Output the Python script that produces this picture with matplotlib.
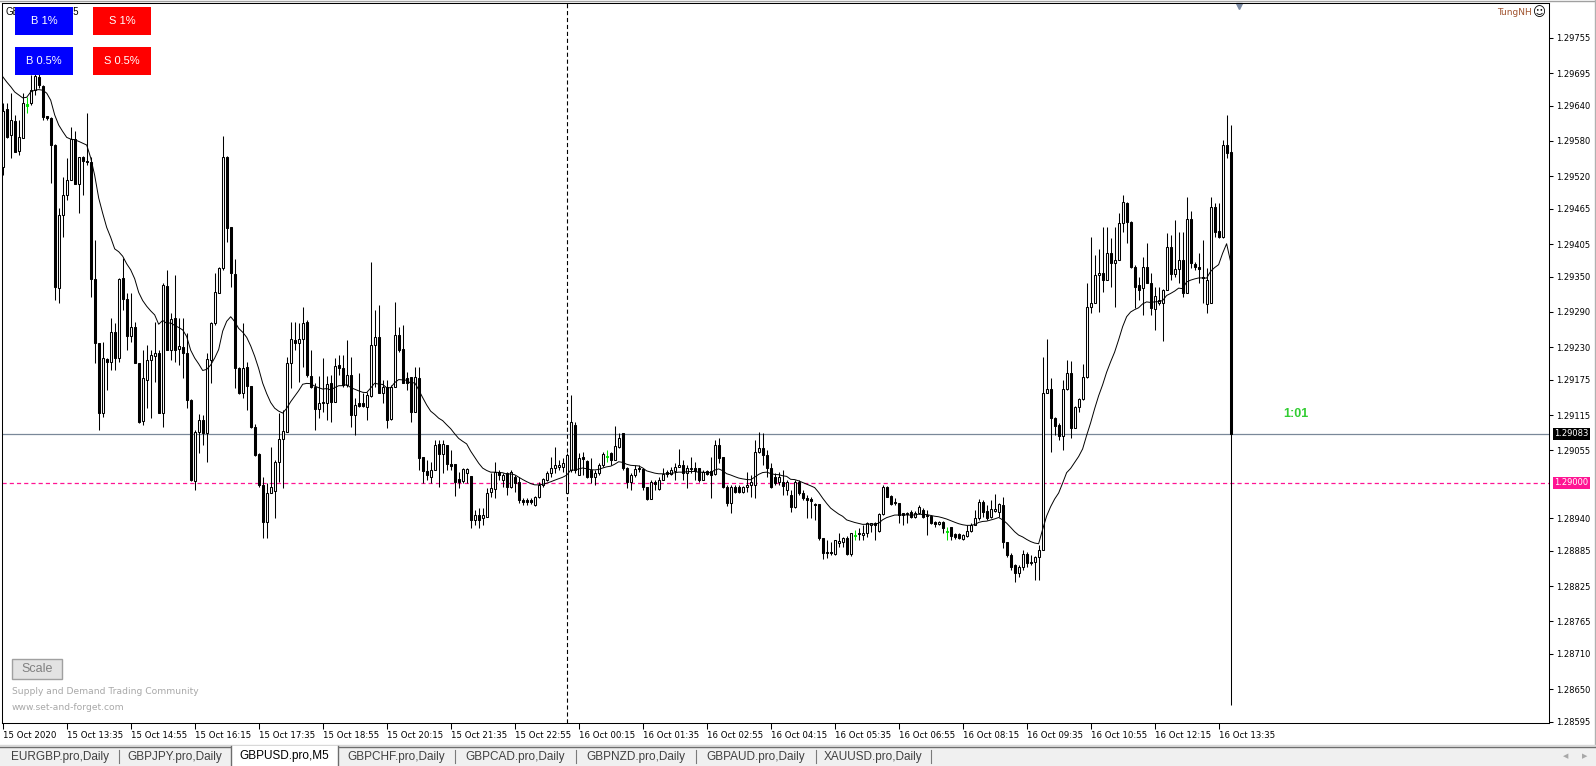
import numpy as np
import matplotlib
matplotlib.use("Agg")
import matplotlib.pyplot as plt
from matplotlib.patches import Rectangle
from matplotlib.lines import Line2D
from matplotlib.transforms import blended_transform_factory

plt.rcParams["font.family"] = ["DejaVu Sans"]
plt.rcParams["lines.scale_dashes"] = False

# GBPUSD M5 candles, 15 Oct 12:15 -> 16 Oct 13:50
open_ = [
    1.29536, 1.29634, 1.29590, 1.29613, 1.29563, 1.29585, 1.29640, 1.29644, 1.29666, 1.29688,
    1.29673, 1.29622, 1.29619, 1.29573, 1.29331, 1.29454, 1.29488, 1.29514, 1.29583, 1.29507,
    1.29553, 1.29546, 1.29544, 1.29346, 1.29237, 1.29119, 1.29210, 1.29205, 1.29256, 1.29212,
    1.29347, 1.29312, 1.29249, 1.29264, 1.29203, 1.29105, 1.29175, 1.29208, 1.29215, 1.29220,
    1.29119, 1.29334, 1.29225, 1.29280, 1.29227, 1.29230, 1.29220, 1.29141, 1.29003, 1.29086,
    1.29107, 1.29085, 1.29208, 1.29271, 1.29322, 1.29364, 1.29553, 1.29434, 1.29354, 1.29195,
    1.29152, 1.29197, 1.29164, 1.29095, 1.29049, 1.28996, 1.28934, 1.28983, 1.28986, 1.29035,
    1.29074, 1.29086, 1.29203, 1.29242, 1.29237, 1.29244, 1.29273, 1.29181, 1.29163, 1.29125,
    1.29136, 1.29136, 1.29169, 1.29137, 1.29200, 1.29195, 1.29166, 1.29183, 1.29115, 1.29135,
    1.29135, 1.29129, 1.29147, 1.29234, 1.29247, 1.29152, 1.29163, 1.29108, 1.29163, 1.29251,
    1.29227, 1.29178, 1.29180, 1.29120, 1.29178, 1.29044, 1.29020, 1.29010, 1.29022, 1.29066,
    1.29049, 1.29064, 1.29032, 1.29032, 1.29007, 1.29003, 1.29017, 1.29012, 1.28937, 1.28946,
    1.28941, 1.28942, 1.28985, 1.28990, 1.29018, 1.29005, 1.29017, 1.28993, 1.29010, 1.29001,
    1.28971, 1.28971, 1.28971, 1.28963, 1.28976, 1.28996, 1.29005, 1.29017, 1.29025, 1.29027,
    1.29027, 1.28983, 1.29022, 1.29098, 1.29013, 1.29044, 1.29037, 1.29022, 1.29010, 1.29017,
    1.29030, 1.29044, 1.29051, 1.29039, 1.29061, 1.29085, 1.29025, 1.29001, 1.29013, 1.29025,
    1.29024, 1.28993, 1.28973, 1.29001, 1.28990, 1.29005, 1.29018, 1.29015, 1.29020, 1.29027,
    1.29030, 1.29017, 1.29024, 1.29025, 1.29025, 1.29005, 1.29020, 1.29020, 1.29015, 1.29064,
    1.29044, 1.28993, 1.28966, 1.28993, 1.28993, 1.28985, 1.28993, 1.28996, 1.28996, 1.29052,
    1.29059, 1.29047, 1.29025, 1.29010, 1.29001, 1.29001, 1.28988, 1.28980, 1.28959, 1.29001,
    1.28983, 1.28974, 1.28973, 1.28964, 1.28964, 1.28907, 1.28883, 1.28883, 1.28879, 1.28898,
    1.28900, 1.28907, 1.28879, 1.28910, 1.28913, 1.28912, 1.28915, 1.28929, 1.28932, 1.28918,
    1.28947, 1.28993, 1.28978, 1.28967, 1.28966, 1.28949, 1.28949, 1.28951, 1.28942, 1.28949,
    1.28954, 1.28946, 1.28944, 1.28934, 1.28930, 1.28934, 1.28917, 1.28925, 1.28913, 1.28913,
    1.28905, 1.28910, 1.28918, 1.28929, 1.28940, 1.28968, 1.28952, 1.28942, 1.28952, 1.28951,
    1.28962, 1.28900, 1.28878, 1.28861, 1.28847, 1.28857, 1.28879, 1.28864, 1.28866, 1.28874,
    1.28886, 1.29152, 1.29159, 1.29110, 1.29098, 1.29080, 1.29159, 1.29186, 1.29093, 1.29129,
    1.29142, 1.29180, 1.29298, 1.29305, 1.29353, 1.29356, 1.29344, 1.29390, 1.29373, 1.29378,
    1.29441, 1.29475, 1.29443, 1.29366, 1.29336, 1.29331, 1.29366, 1.29339, 1.29295, 1.29305,
    1.29305, 1.29327, 1.29400, 1.29354, 1.29363, 1.29378, 1.29322, 1.29448, 1.29371, 1.29366,
    1.29349, 1.29303, 1.29305, 1.29468, 1.29427, 1.29417, 1.29573, 1.29561,
]

high = [
    1.29644, 1.29644, 1.29661, 1.29624, 1.29615, 1.29661, 1.29654, 1.29692, 1.29700, 1.29697,
    1.29675, 1.29622, 1.29620, 1.29574, 1.29466, 1.29519, 1.29551, 1.29604, 1.29597, 1.29553,
    1.29554, 1.29627, 1.29553, 1.29412, 1.29238, 1.29239, 1.29212, 1.29280, 1.29271, 1.29347,
    1.29381, 1.29322, 1.29322, 1.29273, 1.29204, 1.29225, 1.29234, 1.29225, 1.29273, 1.29225,
    1.29339, 1.29361, 1.29288, 1.29353, 1.29280, 1.29280, 1.29254, 1.29142, 1.29090, 1.29117,
    1.29115, 1.29220, 1.29273, 1.29356, 1.29366, 1.29588, 1.29554, 1.29434, 1.29380, 1.29196,
    1.29271, 1.29205, 1.29165, 1.29100, 1.29050, 1.29010, 1.29000, 1.29061, 1.29039, 1.29119,
    1.29124, 1.29213, 1.29273, 1.29273, 1.29271, 1.29298, 1.29276, 1.29225, 1.29169, 1.29181,
    1.29212, 1.29181, 1.29183, 1.29212, 1.29217, 1.29217, 1.29242, 1.29213, 1.29144, 1.29186,
    1.29152, 1.29154, 1.29375, 1.29293, 1.29302, 1.29174, 1.29174, 1.29166, 1.29307, 1.29264,
    1.29268, 1.29188, 1.29180, 1.29197, 1.29197, 1.29044, 1.29039, 1.29035, 1.29073, 1.29073,
    1.29073, 1.29064, 1.29056, 1.29032, 1.29018, 1.29025, 1.29025, 1.29012, 1.28954, 1.28957,
    1.28957, 1.28991, 1.29017, 1.29035, 1.29022, 1.29017, 1.29018, 1.29022, 1.29013, 1.29010,
    1.28974, 1.28974, 1.28974, 1.28978, 1.29001, 1.29008, 1.29020, 1.29044, 1.29061, 1.29039,
    1.29042, 1.29051, 1.29149, 1.29103, 1.29051, 1.29052, 1.29039, 1.29042, 1.29022, 1.29034,
    1.29052, 1.29056, 1.29052, 1.29096, 1.29085, 1.29085, 1.29027, 1.29017, 1.29030, 1.29030,
    1.29025, 1.28993, 1.29005, 1.29005, 1.29010, 1.29025, 1.29022, 1.29027, 1.29034, 1.29058,
    1.29039, 1.29030, 1.29044, 1.29035, 1.29025, 1.29022, 1.29022, 1.29044, 1.29073, 1.29076,
    1.29044, 1.28996, 1.28996, 1.28996, 1.28996, 1.28995, 1.29018, 1.29013, 1.29073, 1.29086,
    1.29085, 1.29056, 1.29034, 1.29017, 1.29018, 1.29022, 1.29005, 1.28988, 1.29005, 1.29005,
    1.28988, 1.28980, 1.28976, 1.28966, 1.28964, 1.28907, 1.28903, 1.28900, 1.28903, 1.28915,
    1.28908, 1.28910, 1.28915, 1.28920, 1.28924, 1.28929, 1.28934, 1.28932, 1.28934, 1.28949,
    1.28996, 1.28994, 1.28980, 1.28974, 1.28966, 1.28949, 1.28951, 1.28954, 1.28952, 1.28962,
    1.28957, 1.28954, 1.28946, 1.28935, 1.28936, 1.28935, 1.28925, 1.28926, 1.28915, 1.28915,
    1.28913, 1.28929, 1.28932, 1.28954, 1.28973, 1.28971, 1.28962, 1.28971, 1.28981, 1.28966,
    1.28976, 1.28900, 1.28881, 1.28863, 1.28861, 1.28886, 1.28883, 1.28878, 1.28876, 1.28895,
    1.29214, 1.29244, 1.29178, 1.29112, 1.29102, 1.29174, 1.29208, 1.29207, 1.29131, 1.29144,
    1.29202, 1.29339, 1.29417, 1.29387, 1.29397, 1.29434, 1.29434, 1.29415, 1.29434, 1.29458,
    1.29488, 1.29476, 1.29444, 1.29370, 1.29349, 1.29383, 1.29407, 1.29356, 1.29332, 1.29332,
    1.29329, 1.29424, 1.29420, 1.29446, 1.29425, 1.29425, 1.29485, 1.29461, 1.29375, 1.29390,
    1.29412, 1.29364, 1.29485, 1.29475, 1.29475, 1.29582, 1.29624, 1.29607,
]

low = [
    1.29522, 1.29585, 1.29551, 1.29561, 1.29556, 1.29585, 1.29627, 1.29641, 1.29658, 1.29670,
    1.29615, 1.29615, 1.29509, 1.29310, 1.29305, 1.29417, 1.29480, 1.29514, 1.29507, 1.29458,
    1.29488, 1.29539, 1.29315, 1.29203, 1.29090, 1.29112, 1.29158, 1.29191, 1.29191, 1.29205,
    1.29293, 1.29225, 1.29239, 1.29203, 1.29102, 1.29098, 1.29127, 1.29110, 1.29171, 1.29119,
    1.29095, 1.29225, 1.29208, 1.29205, 1.29200, 1.29178, 1.29127, 1.29003, 1.28988, 1.29051,
    1.29064, 1.29035, 1.29169, 1.29268, 1.29322, 1.29361, 1.29409, 1.29332, 1.29161, 1.29150,
    1.29144, 1.29124, 1.29093, 1.29045, 1.28993, 1.28907, 1.28907, 1.28983, 1.28940, 1.29001,
    1.28991, 1.29086, 1.29161, 1.29225, 1.29171, 1.29197, 1.29180, 1.29161, 1.29090, 1.29110,
    1.29120, 1.29107, 1.29103, 1.29137, 1.29183, 1.29163, 1.29163, 1.29095, 1.29081, 1.29129,
    1.29129, 1.29107, 1.29146, 1.29163, 1.29152, 1.29136, 1.29093, 1.29107, 1.29163, 1.29222,
    1.29169, 1.29158, 1.29103, 1.29120, 1.29022, 1.29000, 1.29005, 1.29000, 1.29022, 1.28993,
    1.29017, 1.29022, 1.29022, 1.28978, 1.28991, 1.29000, 1.29000, 1.28923, 1.28929, 1.28923,
    1.28929, 1.28942, 1.28976, 1.28974, 1.29005, 1.28993, 1.28980, 1.28991, 1.28985, 1.28966,
    1.28963, 1.28963, 1.28965, 1.28961, 1.28975, 1.28993, 1.29003, 1.29010, 1.29017, 1.29022,
    1.29018, 1.28983, 1.29018, 1.29017, 1.29013, 1.29013, 1.29008, 1.29000, 1.28996, 1.29013,
    1.29027, 1.29035, 1.29030, 1.29039, 1.29059, 1.29022, 1.28991, 1.28988, 1.29010, 1.29018,
    1.28988, 1.28971, 1.28973, 1.28988, 1.28988, 1.29005, 1.29010, 1.29013, 1.29005, 1.29027,
    1.29005, 1.28991, 1.29017, 1.29005, 1.29001, 1.29005, 1.29013, 1.28974, 1.29013, 1.29034,
    1.28991, 1.28961, 1.28949, 1.28983, 1.28983, 1.28983, 1.28985, 1.28976, 1.28974, 1.29051,
    1.29030, 1.29010, 1.28991, 1.28996, 1.28996, 1.28980, 1.28980, 1.28951, 1.28957, 1.28980,
    1.28971, 1.28940, 1.28940, 1.28937, 1.28903, 1.28871, 1.28873, 1.28878, 1.28878, 1.28891,
    1.28891, 1.28878, 1.28876, 1.28903, 1.28903, 1.28903, 1.28908, 1.28917, 1.28903, 1.28917,
    1.28946, 1.28976, 1.28962, 1.28962, 1.28932, 1.28929, 1.28932, 1.28940, 1.28940, 1.28947,
    1.28940, 1.28912, 1.28930, 1.28925, 1.28928, 1.28915, 1.28903, 1.28903, 1.28905, 1.28905,
    1.28903, 1.28908, 1.28917, 1.28929, 1.28937, 1.28942, 1.28937, 1.28940, 1.28951, 1.28942,
    1.28890, 1.28874, 1.28852, 1.28832, 1.28840, 1.28852, 1.28857, 1.28861, 1.28835, 1.28835,
    1.28886, 1.29152, 1.29052, 1.29081, 1.29073, 1.29056, 1.29158, 1.29076, 1.29093, 1.29120,
    1.29141, 1.29178, 1.29288, 1.29305, 1.29290, 1.29324, 1.29344, 1.29332, 1.29298, 1.29378,
    1.29426, 1.29407, 1.29364, 1.29297, 1.29310, 1.29285, 1.29339, 1.29285, 1.29259, 1.29302,
    1.29241, 1.29327, 1.29344, 1.29349, 1.29339, 1.29315, 1.29322, 1.29364, 1.29361, 1.29339,
    1.29305, 1.29288, 1.29305, 1.29417, 1.29415, 1.29415, 1.29551, 1.28623,
]

close = [
    1.29631, 1.29587, 1.29615, 1.29562, 1.29587, 1.29644, 1.29642, 1.29666, 1.29690, 1.29675,
    1.29621, 1.29619, 1.29573, 1.29332, 1.29454, 1.29488, 1.29514, 1.29583, 1.29507, 1.29553,
    1.29546, 1.29544, 1.29346, 1.29237, 1.29119, 1.29212, 1.29205, 1.29256, 1.29212, 1.29346,
    1.29312, 1.29249, 1.29264, 1.29203, 1.29103, 1.29178, 1.29208, 1.29217, 1.29220, 1.29119,
    1.29336, 1.29225, 1.29278, 1.29225, 1.29232, 1.29220, 1.29141, 1.29005, 1.29086, 1.29107,
    1.29085, 1.29210, 1.29271, 1.29324, 1.29364, 1.29553, 1.29432, 1.29356, 1.29195, 1.29152,
    1.29195, 1.29164, 1.29095, 1.29047, 1.28996, 1.28934, 1.28983, 1.28993, 1.29035, 1.29074,
    1.29088, 1.29203, 1.29244, 1.29237, 1.29244, 1.29271, 1.29183, 1.29163, 1.29125, 1.29136,
    1.29137, 1.29168, 1.29137, 1.29198, 1.29195, 1.29166, 1.29183, 1.29115, 1.29132, 1.29130,
    1.29130, 1.29149, 1.29234, 1.29247, 1.29152, 1.29163, 1.29107, 1.29163, 1.29251, 1.29225,
    1.29169, 1.29169, 1.29120, 1.29180, 1.29042, 1.29020, 1.29013, 1.29022, 1.29064, 1.29049,
    1.29066, 1.29032, 1.29029, 1.29001, 1.29001, 1.29024, 1.29024, 1.28937, 1.28946, 1.28937,
    1.28946, 1.28983, 1.28991, 1.29018, 1.29013, 1.29013, 1.28993, 1.29018, 1.29000, 1.28971,
    1.28968, 1.28968, 1.28968, 1.28976, 1.28996, 1.29007, 1.29017, 1.29025, 1.29030, 1.29030,
    1.29034, 1.29047, 1.29103, 1.29022, 1.29042, 1.29041, 1.29010, 1.29010, 1.29017, 1.29030,
    1.29049, 1.29046, 1.29039, 1.29063, 1.29076, 1.29025, 1.29001, 1.29013, 1.29024, 1.29024,
    1.28993, 1.28973, 1.29001, 1.28998, 1.29005, 1.29015, 1.29015, 1.29022, 1.29027, 1.29030,
    1.29017, 1.29025, 1.29025, 1.29020, 1.29005, 1.29018, 1.29015, 1.29013, 1.29064, 1.29042,
    1.28993, 1.28966, 1.28993, 1.28985, 1.28985, 1.28993, 1.28996, 1.29001, 1.29052, 1.29059,
    1.29047, 1.29025, 1.28993, 1.29000, 1.29010, 1.28995, 1.29001, 1.28959, 1.29001, 1.28983,
    1.28974, 1.28971, 1.28969, 1.28963, 1.28907, 1.28881, 1.28881, 1.28881, 1.28903, 1.28901,
    1.28907, 1.28879, 1.28915, 1.28912, 1.28915, 1.28915, 1.28932, 1.28932, 1.28929, 1.28947,
    1.28993, 1.28976, 1.28964, 1.28966, 1.28946, 1.28946, 1.28947, 1.28942, 1.28949, 1.28959,
    1.28942, 1.28944, 1.28932, 1.28930, 1.28934, 1.28924, 1.28919, 1.28910, 1.28908, 1.28907,
    1.28912, 1.28918, 1.28929, 1.28940, 1.28968, 1.28951, 1.28940, 1.28956, 1.28956, 1.28964,
    1.28900, 1.28878, 1.28857, 1.28847, 1.28857, 1.28879, 1.28864, 1.28866, 1.28874, 1.28886,
    1.29152, 1.29159, 1.29110, 1.29096, 1.29080, 1.29159, 1.29186, 1.29093, 1.29129, 1.29142,
    1.29180, 1.29298, 1.29305, 1.29353, 1.29356, 1.29344, 1.29390, 1.29373, 1.29378, 1.29441,
    1.29476, 1.29443, 1.29366, 1.29332, 1.29327, 1.29366, 1.29339, 1.29297, 1.29317, 1.29310,
    1.29327, 1.29400, 1.29354, 1.29363, 1.29378, 1.29322, 1.29448, 1.29373, 1.29366, 1.29363,
    1.29348, 1.29344, 1.29468, 1.29426, 1.29417, 1.29573, 1.29560, 1.29083,
]

# moving average values for the first bars (history before the window)
ma_head = [1.29689, 1.29680, 1.29672, 1.29663, 1.29658, 1.29653, 1.29654, 1.29663, 1.29666, 1.29667,
           1.29666, 1.29661, 1.29649, 1.29624, 1.29607, 1.29596, 1.29586, 1.29583, 1.29582]
ma_period = 20   # exponential MA on close

green_bars = [6, 151, 213, 236]
day_break = 141          # 16 Oct 00:00
current_price = 1.29083
level_price = 1.29000

price_ticks = [1.29755, 1.29695, 1.29640, 1.29580, 1.29520, 1.29465, 1.29405, 1.29350, 1.29290,
               1.29230, 1.29175, 1.29115, 1.29055, 1.28940, 1.28885, 1.28825, 1.28765, 1.28710,
               1.28650, 1.28595]
time_labels = ["15 Oct 2020", "15 Oct 13:35", "15 Oct 14:55", "15 Oct 16:15", "15 Oct 17:35",
               "15 Oct 18:55", "15 Oct 20:15", "15 Oct 21:35", "15 Oct 22:55", "16 Oct 00:15",
               "16 Oct 01:35", "16 Oct 02:55", "16 Oct 04:15", "16 Oct 05:35", "16 Oct 06:55",
               "16 Oct 08:15", "16 Oct 09:35", "16 Oct 10:55", "16 Oct 12:15", "16 Oct 13:35"]
tab_names = ["EURGBP.pro,Daily", "GBPJPY.pro,Daily", "GBPUSD.pro,M5", "GBPCHF.pro,Daily",
             "GBPCAD.pro,Daily", "GBPNZD.pro,Daily", "GBPAUD.pro,Daily", "XAUUSD.pro,Daily"]
active_tab = "GBPUSD.pro,M5"

# ---- figure ----
W, H = 1596, 766
fig = plt.figure(figsize=(W / 100, H / 100), dpi=100)
fig.patch.set_facecolor("white")


def fx(px):
    return px / W


def fy(py):
    return 1 - py / H


ax = fig.add_axes([fx(2), fy(723), fx(1549) - fx(2), fy(3) - fy(723)])
ax.set_facecolor("white")

o = np.array(open_)
h = np.array(high)
l = np.array(low)
c = np.array(close)
x = np.arange(len(c))
is_green = np.isin(x, green_bars)

wick_col = np.where(is_green, "#00e000", "black")
face_col = np.where(is_green, "#00e000", np.where(c >= o, "white", "black"))

ax.vlines(x, l, h, colors=wick_col, lw=0.75, zorder=3)
ax.bar(x, np.abs(c - o), bottom=np.minimum(o, c), width=0.5, color=face_col,
       edgecolor=wick_col, linewidth=0.75, zorder=4)

# EMA, continued from the values read at the left edge
alpha = 2 / (ma_period + 1)
ma = np.empty(len(c))
ma[:len(ma_head)] = ma_head
for i in range(len(ma_head), len(c)):
    ma[i] = ma[i - 1] + alpha * (c[i] - ma[i - 1])
ax.plot(x, ma, color="black", lw=0.7, zorder=5)

ax.axhline(current_price, color="#7a8899", lw=0.9, zorder=1)
ax.axhline(level_price, color="#ff1493", lw=0.9, ls=(0, (3.0, 2.2)), zorder=1)
ax.axvline(day_break, color="black", lw=0.8, ls=(0, (3.0, 2.0)), zorder=1)

ax.set_xlim(-0.175, 386.6)
ax.set_ylim(1.285928, 1.298139)

for sp in ax.spines.values():
    sp.set_color("black")
    sp.set_linewidth(0.75)

ax.yaxis.tick_right()
ax.set_yticks(price_ticks)
ax.set_yticklabels([f"{v:.5f}" for v in price_ticks])
ax.tick_params(axis="y", direction="out", length=3, width=0.75, pad=2, labelsize=6, colors="black")

tick_idx = np.arange(len(time_labels)) * 16
ax.set_xticks(tick_idx)
ax.set_xticklabels(time_labels, ha="left")
ax.tick_params(axis="x", direction="out", length=4, width=0.75, pad=1.5, labelsize=6.2)

# price labels on the right scale
tr = blended_transform_factory(ax.transAxes, ax.transData)
ax.text(1.0035, current_price, f"{current_price:.5f}", transform=tr, ha="left", va="center",
        fontsize=6, color="white", clip_on=False, zorder=10,
        bbox=dict(boxstyle="square,pad=0.2", fc="black", ec="none"))
ax.text(1.0035, level_price, f"{level_price:.5f}", transform=tr, ha="left", va="center",
        fontsize=6, color="white", clip_on=False, zorder=10,
        bbox=dict(boxstyle="square,pad=0.2", fc="#ff1493", ec="none"))

# chart shift marker
tr2 = blended_transform_factory(ax.transData, ax.transAxes)
ax.plot([len(c) + 1], [0.9965], marker="v", ms=5, color="#7b8aa3", transform=tr2, clip_on=False)

# countdown
fig.text(fx(1296), fy(414), "1:01", color="#32cd32", fontsize=9, fontweight="bold",
         family="Liberation Sans", ha="center", va="center")

# title behind buttons
fig.text(fx(6), fy(12), "GBPUSD.pro,M5", fontsize=7, family="Liberation Sans",
         ha="left", va="center", color="black")

# trade buttons
buttons = [("B 1%", 15, 7, "#0000ff"), ("S 1%", 93, 7, "#ff0000"),
           ("B 0.5%", 15, 47, "#0000ff"), ("S 0.5%", 93, 47, "#ff0000")]
for label, bx, by, col in buttons:
    fig.add_artist(Rectangle((fx(bx), fy(by + 27.5)), 58 / W, 27.5 / H, transform=fig.transFigure,
                             fc=col, ec="none", zorder=6))
    fig.text(fx(bx + 29), fy(by + 14), label, color="white", fontsize=8, family="Liberation Sans",
             ha="center", va="center", zorder=7)

# top right signature
fig.text(fx(1532), fy(12.5), "TungNH", color="#a0522d", fontsize=6.5, ha="right", va="center")
fig.text(fx(1539), fy(12.5), "\u263a", color="black", fontsize=9, ha="center", va="center")

# scale button and watermark
fig.add_artist(Rectangle((fx(12), fy(679)), 50 / W, 20 / H, transform=fig.transFigure,
                         fc="#e3e3e3", ec="#a0a0a0", lw=1, zorder=6))
fig.text(fx(37), fy(669), "Scale", color="#808080", fontsize=9, family="Liberation Sans",
         ha="center", va="center", zorder=7)
fig.text(fx(12), fy(692), "Supply and Demand Trading Community", color="#a8a8a8",
         fontsize=6.6, ha="left", va="center")
fig.text(fx(12), fy(708), "www.set-and-forget.com", color="#a8a8a8", fontsize=6.6,
         ha="left", va="center")

# frame lines of the window
fig.add_artist(Line2D([0, 1], [fy(0.5), fy(0.5)], transform=fig.transFigure, color="#a0a0a0", lw=1))
fig.add_artist(Line2D([fx(1595), fx(1595)], [fy(0), fy(745)], transform=fig.transFigure,
                      color="#b0b0b0", lw=1))

# tab bar
fig.add_artist(Rectangle((0, 0), 1, fy(746), transform=fig.transFigure, fc="#f0f0f0", ec="none", zorder=1))
fig.add_artist(Line2D([0, 1], [fy(745), fy(745)], transform=fig.transFigure, color="#d8d8d8", lw=1))
fig.add_artist(Line2D([0, 1], [fy(747), fy(747)], transform=fig.transFigure, color="#6d6d6d", lw=1))

tab_edges = [0, 119, 231, 338, 455, 576, 696, 816, 931]
for k, name in enumerate(tab_names):
    left, right = tab_edges[k], tab_edges[k + 1]
    if name == active_tab:
        fig.add_artist(Rectangle((fx(left), 0), (right - left) / W, fy(745.5), transform=fig.transFigure,
                                 fc="white", ec="none", zorder=2))
        for ex in (left, right):
            fig.add_artist(Line2D([fx(ex), fx(ex)], [0, fy(746)], transform=fig.transFigure,
                                  color="#6d6d6d", lw=1, zorder=3))
        fig.text(fx((left + right) / 2), fy(756), name, color="black", fontsize=8.5,
                 family="Liberation Sans", ha="center", va="center", zorder=4)
    else:
        fig.text(fx((left + right) / 2), fy(757), name, color="#404040", fontsize=8.5,
                 family="Liberation Sans", ha="center", va="center", zorder=4)
        if k > 0 and tab_names[k - 1] != active_tab:
            fig.add_artist(Line2D([fx(left), fx(left)], [fy(750), fy(763)], transform=fig.transFigure,
                                  color="#7a7a7a", lw=0.8, zorder=3))
fig.add_artist(Line2D([fx(tab_edges[-1]), fx(tab_edges[-1])], [fy(750), fy(763)],
                      transform=fig.transFigure, color="#7a7a7a", lw=0.8, zorder=3))
fig.text(fx(1566), fy(756), "\u25c0", color="#a8a8a8", fontsize=5, ha="center", va="center")
fig.text(fx(1585), fy(756), "\u25b6", color="#a8a8a8", fontsize=5, ha="center", va="center")

fig.savefig("out.png", dpi=100)
